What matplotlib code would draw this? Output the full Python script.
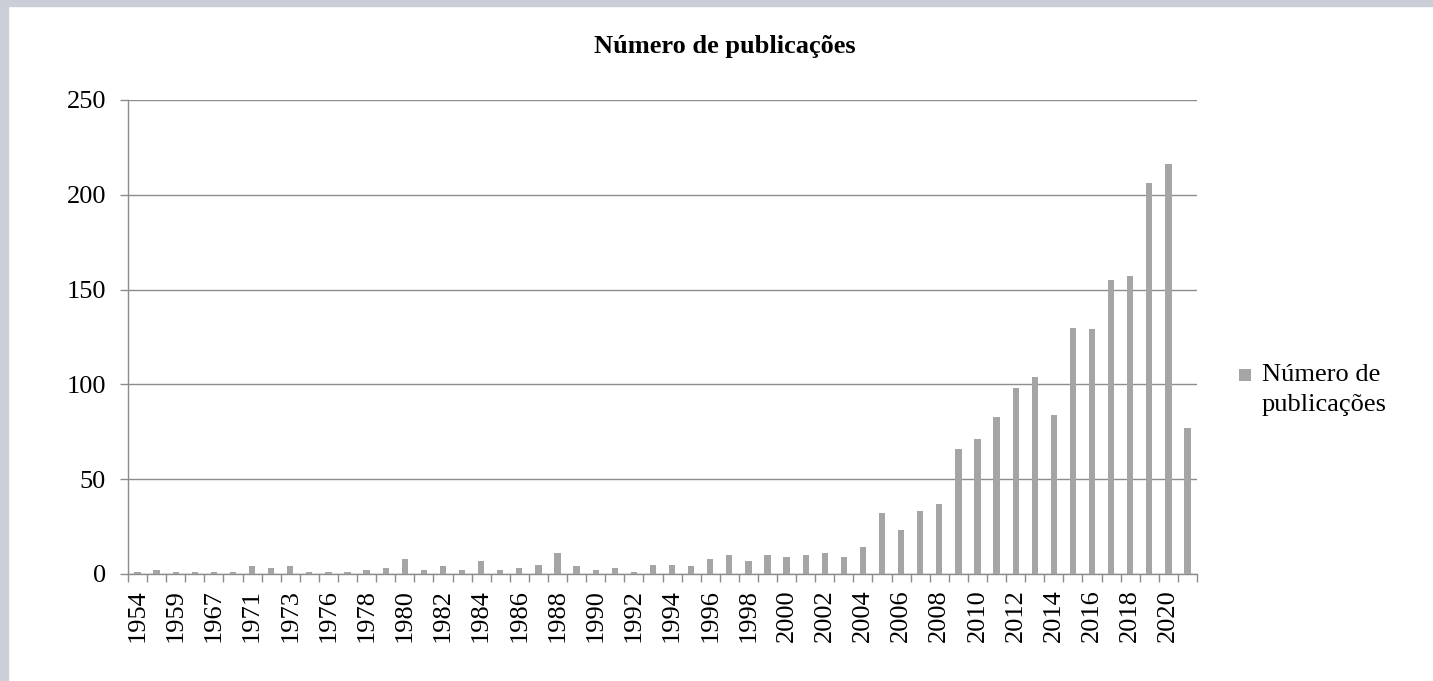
import numpy as np
import matplotlib
matplotlib.use("Agg")
import matplotlib.pyplot as plt
from matplotlib.patches import Rectangle
from matplotlib.legend_handler import HandlerPatch
from matplotlib.container import BarContainer

plt.rcParams['font.family'] = ['Liberation Serif', 'DejaVu Serif']

# categorias (anos com publicações) e contagens
anos = [1954, 1956, 1959, 1963, 1967, 1969, 1971, 1972, 1973, 1975, 1976, 1977,
        1978, 1979, 1980, 1981, 1982, 1983, 1984, 1985, 1986, 1987, 1988, 1989,
        1990, 1991, 1992, 1993, 1994, 1995, 1996, 1997, 1998, 1999, 2000, 2001,
        2002, 2003, 2004, 2005, 2006, 2007, 2008, 2009, 2010, 2011, 2012, 2013,
        2014, 2015, 2016, 2017, 2018, 2019, 2020, 2021]
publicacoes = [1, 2, 1, 1, 1, 1, 4, 3, 4, 1, 1, 1,
               2, 3, 8, 2, 4, 2, 7, 2, 3, 5, 11, 4,
               2, 3, 1, 5, 5, 4, 8, 10, 7, 10, 9, 10,
               11, 9, 14, 32, 23, 33, 37, 66, 71, 83, 98, 104,
               84, 130, 129, 155, 157, 206, 216, 77]

titulo = "Número de publicações"
rotulo_serie = "Número de\npublicações"

W, H = 1433, 681
fig = plt.figure(figsize=(W / 100, H / 100), dpi=100)
fig.patch.set_facecolor('white')

# bordas cinzentas do slide original
fig.patches.append(Rectangle((0, 0), 8 / W, 1, transform=fig.transFigure,
                             color='#cacfd8', zorder=-1))
fig.patches.append(Rectangle((0, 1 - 6 / H), 1, 6 / H, transform=fig.transFigure,
                             color='#c9ced7', zorder=-1))

ax = fig.add_axes([128 / W, 1 - 574 / H, (1197 - 128) / W, (574 - 100) / H])

x = np.arange(len(anos))
ax.bar(x, publicacoes, width=0.33, color='#a5a5a5', label=rotulo_serie, zorder=3)

ax.set_xlim(-0.5, len(anos) - 0.5)
ax.set_ylim(0, 250)
ax.set_yticks(range(0, 251, 50))
ax.yaxis.grid(True, color='#8c8c8c', linewidth=1)
ax.set_axisbelow(True)

for s in ['top', 'right']:
    ax.spines[s].set_visible(False)
for s in ['left', 'bottom']:
    ax.spines[s].set_color('#8c8c8c')
    ax.spines[s].set_linewidth(1)

ax.set_xticks(x[::2])
ax.set_xticklabels([str(a) for a in anos[::2]], rotation=90)
ax.set_xticks(np.arange(len(anos) + 1) - 0.5, minor=True)
ax.tick_params(axis='x', which='major', length=0, pad=11, labelsize=19)
ax.tick_params(axis='x', which='minor', length=5.8, width=1, color='#8c8c8c')
ax.tick_params(axis='y', length=5.8, width=1, color='#8c8c8c', pad=10, labelsize=19)

fig.text(725 / W, 1 - 46 / H, titulo, ha='center', va='center',
         fontsize=19, fontweight='bold')


# quadrado da legenda alinhado com a primeira linha do texto
def quadrado_topo(legend, orig_handle, xdescent, ydescent, width, height, fontsize):
    lado = 0.47 * fontsize
    cy = -ydescent + height * 0.85
    return Rectangle((-xdescent + (width - lado) / 2, cy - lado / 2), lado, lado)


def cor_da_barra(handle, orig):
    handle.update_from(orig.patches[0])


leg = ax.legend(loc='center left', bbox_to_anchor=(1239 / W, 1 - 390 / H),
                bbox_transform=fig.transFigure, frameon=False, fontsize=19,
                handlelength=0.47, handleheight=2.2, handletextpad=0.4,
                borderpad=0, borderaxespad=0,
                handler_map={BarContainer: HandlerPatch(patch_func=quadrado_topo,
                                                        update_func=cor_da_barra)})
for t in leg.get_texts():
    t.set_linespacing(1.45)

fig.savefig('out.png', dpi=100)
